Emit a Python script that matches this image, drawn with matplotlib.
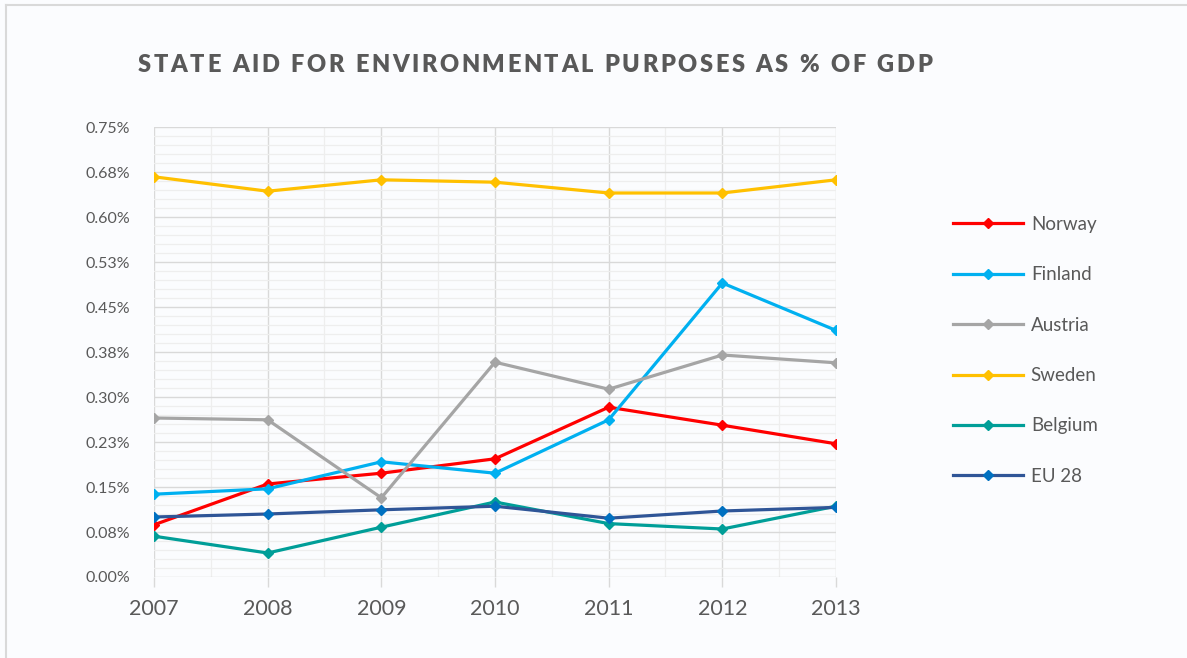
import matplotlib
matplotlib.use("Agg")
import matplotlib.pyplot as plt
from matplotlib.lines import Line2D
from matplotlib.ticker import MultipleLocator, FixedLocator

# State aid for environmental purposes, % of GDP
years = [2007, 2008, 2009, 2010, 2011, 2012, 2013]
norway = [0.087, 0.155, 0.173, 0.197, 0.283, 0.253, 0.222]
finland = [0.138, 0.147, 0.192, 0.173, 0.262, 0.490, 0.411]
austria = [0.265, 0.262, 0.132, 0.358, 0.313, 0.370, 0.357]
sweden = [0.667, 0.643, 0.662, 0.658, 0.640, 0.640, 0.662]
belgium = [0.068, 0.040, 0.083, 0.125, 0.089, 0.080, 0.118]
eu28 = [0.100, 0.105, 0.112, 0.118, 0.098, 0.110, 0.116]

series_names = ["Norway", "Finland", "Austria", "Sweden", "Belgium", "EU 28"]
y_ticks = [0.0, 0.075, 0.15, 0.225, 0.30, 0.375, 0.45, 0.525, 0.60, 0.675, 0.75]
y_tick_labels = ["0.00%", "0.08%", "0.15%", "0.23%", "0.30%", "0.38%",
                 "0.45%", "0.53%", "0.60%", "0.68%", "0.75%"]
title = "STATE AID FOR ENVIRONMENTAL PURPOSES AS % OF GDP"

series = [norway, finland, austria, sweden, belgium, eu28]
line_colors = ["#FF0000", "#00B0F0", "#A5A5A5", "#FFC000", "#009E98", "#2F5597"]
marker_colors = ["#FF0000", "#00B0F0", "#A5A5A5", "#FFC000", "#009E98", "#0070C0"]

BG = "#FBFCFE"
TXT = "#595959"
FONT = ["Lato", "DejaVu Sans"]

W, H, DPI = 1187, 658, 100
fig = plt.figure(figsize=(W / DPI, H / DPI), dpi=DPI, facecolor=BG)
ax = fig.add_axes([154 / W, 1 - 577 / H, (836 - 154) / W, (577 - 127) / H], facecolor=BG)

for vals, lc, mc, name in zip(series, line_colors, marker_colors, series_names):
    ax.plot(years, vals, color=lc, lw=2.3, marker="D", markersize=5.5,
            markerfacecolor=mc, markeredgecolor=mc, label=name, zorder=3,
            solid_joinstyle="round")

ax.set_xlim(years[0], years[-1])
ax.set_ylim(0, 0.75)
ax.set_xticks(years)
ax.xaxis.set_minor_locator(MultipleLocator(0.5))
ax.yaxis.set_major_locator(FixedLocator(y_ticks))
ax.set_yticklabels(y_tick_labels)
ax.yaxis.set_minor_locator(MultipleLocator(0.015))

ax.grid(which="major", color="#D9D9D9", lw=1.0, zorder=0)
ax.grid(which="minor", color="#EEEEEE", lw=0.9, zorder=0)
ax.set_axisbelow(True)
for s in ax.spines.values():
    s.set_visible(False)

ax.tick_params(axis="x", which="major", length=7, color="#D9D9D9", width=1.0,
               pad=9, labelsize=15.5, labelcolor=TXT)
ax.tick_params(axis="x", which="minor", length=0)
ax.tick_params(axis="y", which="both", length=0, pad=17, labelsize=11.5, labelcolor=TXT)
for lab in ax.get_xticklabels() + ax.get_yticklabels():
    lab.set_family(FONT)

leg = ax.legend(loc="upper left", bbox_to_anchor=(953 / W, 1 - 216 / H),
                bbox_transform=fig.transFigure, frameon=False,
                prop={"family": FONT, "size": 13.5}, labelcolor=TXT,
                handlelength=3.75, handletextpad=0.4, labelspacing=1.78,
                markerscale=0.9, borderpad=0, borderaxespad=0)

# Title drawn with wide letter spacing
renderer = fig.canvas.get_renderer()
title_left, title_right, title_base = 138, 932, 72
chars = []
for ch in title:
    t = fig.text(0, 0, ch, fontsize=17, fontweight="heavy", color=TXT,
                 family=FONT, ha="left", va="baseline")
    chars.append(t)
probe = fig.text(0, 0, "n", fontsize=17, fontweight="heavy", family=FONT)
space_w = probe.get_window_extent(renderer).width * 0.45
probe.remove()
widths = [t.get_window_extent(renderer).width if ch != " " else space_w
          for t, ch in zip(chars, title)]
gap = (title_right - title_left - sum(widths)) / (len(title) - 1)
x = title_left
for t, w in zip(chars, widths):
    t.set_position((x / W, 1 - title_base / H))
    x += w + gap

# Chart area border (top and left edges)
fig.add_artist(Line2D([6 / W, 1], [1 - 5 / H, 1 - 5 / H], color="#D9D9D9", lw=1.5,
                      transform=fig.transFigure))
fig.add_artist(Line2D([6 / W, 6 / W], [0, 1 - 5 / H], color="#D9D9D9", lw=1.5,
                      transform=fig.transFigure))

fig.savefig("out.png", dpi=DPI, facecolor=BG)
